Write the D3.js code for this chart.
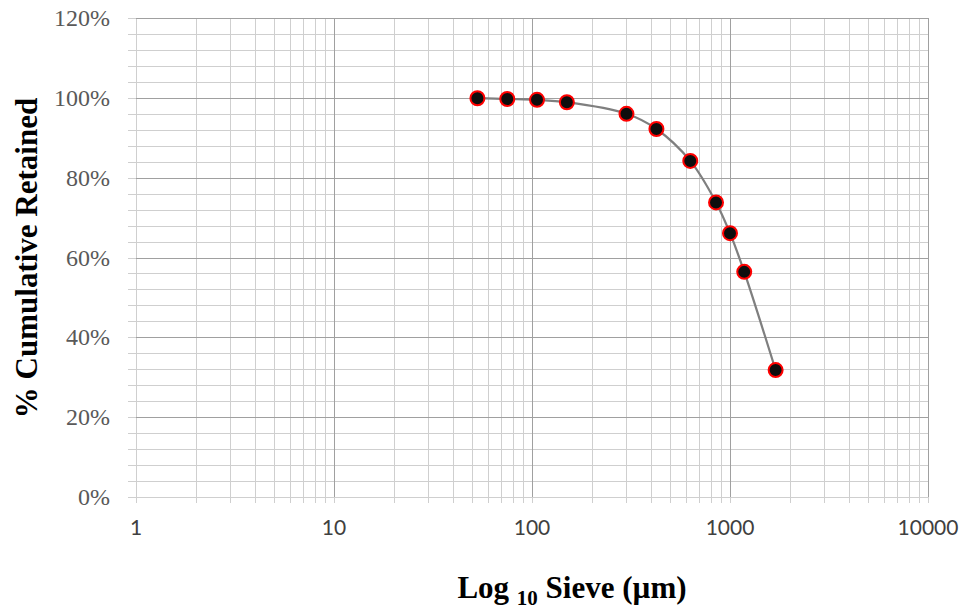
<!DOCTYPE html>
<html>
<head>
<meta charset="utf-8">
<style>
  body {
    margin: 0;
    background: #fff;
  }
  .grid-minor line {
    stroke: #cfcfcf;
    stroke-width: 1px;
  }
  .grid-major line {
    stroke: #a0a0a0;
    stroke-width: 1px;
  }
  .ytick text {
    font: 24px "Liberation Serif", "Times New Roman", serif;
    fill: #595959;
  }
  .xtick text {
    font: 21px Lato, "Liberation Sans", sans-serif;
    fill: #404040;
  }
  .title {
    font-family: "Liberation Serif", "Times New Roman", serif;
    font-weight: bold;
    font-size: 31px;
    fill: #000;
  }
</style>
</head>
<body>
<svg id="chart" width="962" height="609"></svg>

<script src="https://cdn.jsdelivr.net/npm/d3@7"></script>
<script>
// sieve openings (um) and cumulative % retained
var sieve = [53, 75, 106, 150, 300, 425, 630, 850, 1000, 1180, 1700];
var retained = [99.9, 99.7, 99.5, 98.9, 96.0, 92.2, 84.2, 73.8, 66.1, 56.4, 31.8];

var xTickLabels = [1, 10, 100, 1000, 10000];
var yTickLabels = [0, 20, 40, 60, 80, 100, 120];

var svg = d3.select("#chart"),
    margin = {top: 18, right: 34, bottom: 112, left: 136},
    width = 962 - margin.left - margin.right,
    height = 609 - margin.top - margin.bottom;

var g = svg.append("g")
    .attr("transform", "translate(" + margin.left + "," + margin.top + ")");

var x = d3.scaleLog().domain([1, 10000]).range([0, width]);
var y = d3.scaleLinear().domain([0, 120]).range([height, 0]);

// minor positions on the log axis: 2..9 in each decade
var xMinor = [];
for (var d = 1; d < 10000; d *= 10) {
  for (var k = 2; k < 10; k++) xMinor.push(d * k);
}
var yMinor = d3.range(0, 121, 4).filter(function(v) { return v % 20 != 0; });

// minor grid
var gm = g.append("g").attr("class", "grid-minor");
gm.selectAll("line.v").data(xMinor).enter().append("line")
    .attr("x1", function(d) { return Math.round(x(d)) + 0.5; })
    .attr("x2", function(d) { return Math.round(x(d)) + 0.5; })
    .attr("y1", 0).attr("y2", height + 6);
gm.selectAll("line.h").data(yMinor).enter().append("line")
    .attr("y1", function(d) { return Math.round(y(d)) + 0.5; })
    .attr("y2", function(d) { return Math.round(y(d)) + 0.5; })
    .attr("x1", -8).attr("x2", width);
// axis lines and outer ticks at majors (light)
gm.append("line")
    .attr("x1", 0.5).attr("x2", 0.5).attr("y1", 0).attr("y2", height + 6);
gm.append("line")
    .attr("x1", -8).attr("x2", width).attr("y1", height + 0.5).attr("y2", height + 0.5);
gm.selectAll("line.xt").data(xTickLabels).enter().append("line")
    .attr("x1", function(d) { return Math.round(x(d)) + 0.5; })
    .attr("x2", function(d) { return Math.round(x(d)) + 0.5; })
    .attr("y1", height).attr("y2", height + 6);
gm.selectAll("line.yt").data(yTickLabels).enter().append("line")
    .attr("y1", function(d) { return Math.round(y(d)) + 0.5; })
    .attr("y2", function(d) { return Math.round(y(d)) + 0.5; })
    .attr("x1", -8).attr("x2", 0);

// major grid
var gM = g.append("g").attr("class", "grid-major");
gM.selectAll("line.v").data(xTickLabels.slice(1)).enter().append("line")
    .attr("x1", function(d) { return Math.round(x(d)) + 0.5; })
    .attr("x2", function(d) { return Math.round(x(d)) + 0.5; })
    .attr("y1", 0).attr("y2", height);
gM.selectAll("line.h").data(yTickLabels.slice(1)).enter().append("line")
    .attr("y1", function(d) { return Math.round(y(d)) + 0.5; })
    .attr("y2", function(d) { return Math.round(y(d)) + 0.5; })
    .attr("x1", 0).attr("x2", width);

// tick labels
var yt = g.append("g").attr("class", "ytick");
yt.selectAll("text").data(yTickLabels).enter().append("text")
    .attr("x", -26)
    .attr("y", function(d) { return y(d); })
    .attr("dy", "0.34em")
    .attr("text-anchor", "end")
    .text(function(d) { return d + "%"; });

var xt = g.append("g").attr("class", "xtick");
xt.selectAll("text").data(xTickLabels).enter().append("text")
    .attr("x", function(d) { return x(d); })
    .attr("y", height + 38)
    .attr("text-anchor", "middle")
    .text(function(d) { return d; });

// data
var pts = sieve.map(function(s, i) { return {s: s, r: retained[i]}; });

var line = d3.line()
    .x(function(d) { return x(d.s); })
    .y(function(d) { return y(d.r); })
    .curve(d3.curveCatmullRom.alpha(0.5));

g.append("path")
    .datum(pts)
    .attr("d", line)
    .attr("fill", "none")
    .attr("stroke", "#7f7f7f")
    .attr("stroke-width", 2.25);

g.selectAll("circle.pt").data(pts).enter().append("circle")
    .attr("class", "pt")
    .attr("cx", function(d) { return x(d.s); })
    .attr("cy", function(d) { return y(d.r); })
    .attr("r", 7)
    .attr("fill", "#0d0d0d")
    .attr("stroke", "#ff0000")
    .attr("stroke-width", 2);

// axis titles
var xTitle = svg.append("text")
    .attr("class", "title")
    .attr("x", 572)
    .attr("y", 598)
    .attr("text-anchor", "middle");
xTitle.append("tspan").text("Log ");
xTitle.append("tspan").attr("font-size", "21px").attr("dy", 7).text("10");
xTitle.append("tspan").attr("dy", -7).text(" Sieve (\u00b5m)");

svg.append("text")
    .attr("class", "title")
    .attr("transform", "translate(37,258) rotate(-90)")
    .attr("text-anchor", "middle")
    .text("% Cumulative Retained");
</script>
</body>
</html>
